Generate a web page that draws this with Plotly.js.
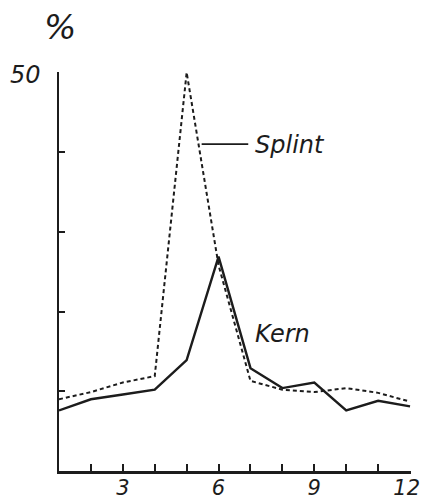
<!DOCTYPE html>
<html>
<head>
<meta charset="utf-8">
<script src="https://cdn.plot.ly/plotly-3.0.1.min.js"></script>
<style>
html,body{margin:0;padding:0;background:#fff;}
#chart{width:422px;height:501px;}
</style>
</head>
<body>
<div id="chart"></div>
<script>
// Data
const months = [1, 2, 3, 4, 5, 6, 7, 8, 9, 10, 11, 12];
const kern   = [7.6, 9.0, 9.6, 10.2, 13.9, 26.9, 12.9, 10.4, 11.1, 7.6, 8.8, 8.1];
const splint = [9.0, 9.9, 11.1, 11.9, 50.0, 25.8, 11.3, 10.2, 9.9, 10.4, 9.8, 8.7];
const xTickVals = [2, 3, 4, 5, 6, 7, 8, 9, 10, 11, 12];
const xTickText = ["", "3", "", "", "6", "", "", "9", "", "", "12\u00a0"];
const yTickVals = [10, 20, 30, 40, 50];
const yTickText = ["", "", "", "", ""];
const yTopLabel = "50";
const yUnit = "%";
const splintLabel = "Splint";
const kernLabel = "Kern";

const ink = "#1c1c1c";
const fnt = "DejaVu Sans";

const traces = [
  {x: months, y: splint, type: "scatter", mode: "lines", name: splintLabel,
   line: {color: ink, width: 2, dash: "4px,3px"}, hoverinfo: "skip", cliponaxis: false},
  {x: months, y: kern, type: "scatter", mode: "lines", name: kernLabel,
   line: {color: ink, width: 2.4}, hoverinfo: "skip", cliponaxis: false}
];

const layout = {
  width: 422, height: 501,
  margin: {l: 59, r: 11, t: 72, b: 30, pad: 0},
  paper_bgcolor: "#fff", plot_bgcolor: "#fff",
  showlegend: false,
  xaxis: {
    range: [1, 12.03], showgrid: false, zeroline: false,
    showline: true, linewidth: 2.5, linecolor: ink,
    ticks: "inside", ticklen: 7, tickwidth: 2, tickcolor: ink,
    tickvals: xTickVals, ticktext: xTickText,
    tickfont: {family: fnt, size: 21, color: ink, style: "italic"},
    ticklabeloverflow: "allow", ticklabelstandoff: -4,
    fixedrange: true
  },
  yaxis: {
    range: [0, 50.05], showgrid: false, zeroline: false,
    showline: true, linewidth: 2.5, linecolor: ink,
    ticks: "inside", ticklen: 6, tickwidth: 2, tickcolor: ink,
    tickvals: yTickVals, ticktext: yTickText,
    fixedrange: true
  },
  shapes: [
    {type: "line", xref: "x", yref: "y", x0: 5.47, x1: 6.93, y0: 41.0, y1: 41.0,
     line: {color: ink, width: 1.8}}
  ],
  annotations: [
    {x: 1, y: 50, xref: "x", yref: "y", text: yTopLabel, showarrow: false,
     xanchor: "right", yanchor: "middle", xshift: -16, yshift: -3,
     font: {family: fnt, size: 24, color: ink, style: "italic"}},
    {x: 1, y: 50, xref: "x", yref: "y", text: yUnit, showarrow: false,
     xanchor: "center", yanchor: "middle", xshift: 1, yshift: 45,
     font: {family: fnt, size: 34, color: ink, style: "italic"}},
    {x: 7.08, y: 40.9, xref: "x", yref: "y", text: splintLabel, showarrow: false,
     xanchor: "left", yanchor: "middle",
     font: {family: fnt, size: 24, color: ink, style: "italic"}},
    {x: 7.08, y: 17.2, xref: "x", yref: "y", text: kernLabel, showarrow: false,
     xanchor: "left", yanchor: "middle",
     font: {family: fnt, size: 24, color: ink, style: "italic"}}
  ]
};

Plotly.newPlot("chart", traces, layout, {staticPlot: true, displayModeBar: false});
</script>
</body>
</html>
